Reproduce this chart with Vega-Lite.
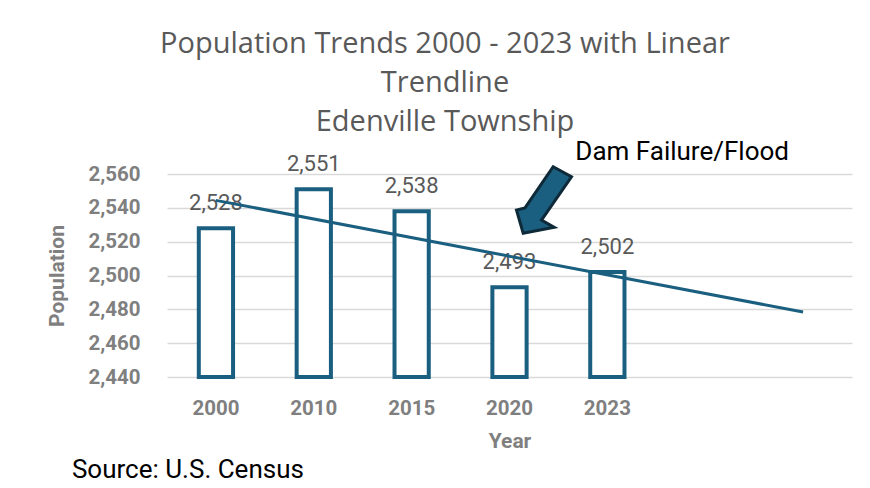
{
  "$schema": "https://vega.github.io/schema/vega-lite/v6.json",
  "autosize": {"type": "none"},
  "width": 685,
  "height": 203,
  "padding": {"left": 167, "top": 174, "right": 18, "bottom": 111},
  "background": "white",
  "config": {"view": {"stroke": null}, "font": "Roboto"},
  "title": {
    "text": ["Population Trends 2000 - 2023 with Linear", "Trendline", "Edenville Township"],
    "anchor": "middle",
    "frame": "group",
    "dx": -64.5,
    "font": "Open Sans",
    "fontSize": 29,
    "fontWeight": "normal",
    "color": "#595959",
    "lineHeight": 39,
    "offset": 2
  },
  "datasets": {
    "pop": [
      {"Year": "2000", "Population": 2528, "Label": "2,528"},
      {"Year": "2010", "Population": 2551, "Label": "2,551"},
      {"Year": "2015", "Population": 2538, "Label": "2,538"},
      {"Year": "2020", "Population": 2493, "Label": "2,493"},
      {"Year": "2023", "Population": 2502, "Label": "2,502"}
    ],
    "trend": [
      {"Year": "2000", "Population": 2544.4},
      {"Year": "  ", "Population": 2478.4}
    ],
    "notes": [
      {"Year": "2023", "Population": 2573, "Note": "Dam Failure/Flood", "Kind": "annot"},
      {"Year": "2000", "Population": 2385, "Note": "Source: U.S. Census", "Kind": "source"}
    ],
    "arrow": [
      {"Year": "2020", "Population": 2540}
    ]
  },
  "encoding": {
    "x": {
      "field": "Year",
      "type": "ordinal",
      "scale": {"domain": ["2000", "2010", "2015", "2020", "2023", " ", "  "], "paddingInner": 0.65, "paddingOuter": 0.325},
      "axis": {
        "title": "Year",
        "labelAngle": 0,
        "labelFont": "Roboto",
        "labelFontSize": 20.5,
        "labelFontWeight": "bold",
        "labelColor": "#7f7f7f",
        "labelPadding": 21,
        "titleFont": "Roboto",
        "titleFontSize": 21,
        "titleFontWeight": "bold",
        "titleColor": "#7f7f7f",
        "titlePadding": 12,
        "ticks": false,
        "domain": false,
        "grid": false
      }
    },
    "y": {
      "field": "Population",
      "type": "quantitative",
      "scale": {"domain": [2440, 2560], "nice": false, "zero": false},
      "axis": {
        "title": "Population",
        "values": [2440, 2460, 2480, 2500, 2520, 2540, 2560],
        "format": ",d",
        "labelFont": "Roboto",
        "labelFontSize": 20.5,
        "labelFontWeight": "bold",
        "labelColor": "#7f7f7f",
        "labelPadding": 27,
        "titleFont": "Roboto",
        "titleFontSize": 21,
        "titleFontWeight": "bold",
        "titleColor": "#7f7f7f",
        "titlePadding": 20,
        "ticks": false,
        "domain": false,
        "grid": true,
        "gridColor": "#d9d9d9",
        "gridWidth": 1.5
      }
    }
  },
  "layer": [
    {
      "data": {"name": "pop"},
      "mark": {"type": "bar", "fill": "white", "stroke": "#1b5f80", "strokeWidth": 4},
      "encoding": {"y2": {"datum": 2440}}
    },
    {
      "data": {"name": "pop"},
      "mark": {"type": "text", "font": "Roboto", "fontSize": 22, "color": "#595959", "baseline": "alphabetic", "dy": -18},
      "encoding": {"text": {"field": "Label"}}
    },
    {
      "data": {"name": "trend"},
      "mark": {"type": "line", "stroke": "#1b5f80", "strokeWidth": 3},
      "encoding": {}
    },
    {
      "data": {"name": "arrow"},
      "mark": {
        "type": "point",
        "shape": "M0.437,-0.411 L0.62,-0.311 L0.32,0.122 L0.447,0.195 L0.137,0.255 L0.07,0.022 L0.155,0.0 Z",
        "size": 40000,
        "filled": true,
        "fill": "#1b5f80",
        "stroke": "#0e2a38",
        "strokeWidth": 3,
        "opacity": 1
      },
      "encoding": {}
    },
    {
      "data": {"name": "notes"},
      "transform": [{"filter": "datum.Kind == 'annot'"}],
      "mark": {"type": "text", "font": "Roboto", "fontSize": 26, "color": "#000000", "align": "left", "baseline": "middle", "dx": -32},
      "encoding": {"text": {"field": "Note"}}
    },
    {
      "data": {"name": "notes"},
      "transform": [{"filter": "datum.Kind == 'source'"}],
      "mark": {"type": "text", "font": "Roboto", "fontSize": 26, "color": "#000000", "align": "left", "baseline": "middle", "dx": -144},
      "encoding": {"text": {"field": "Note"}}
    }
  ]
}
